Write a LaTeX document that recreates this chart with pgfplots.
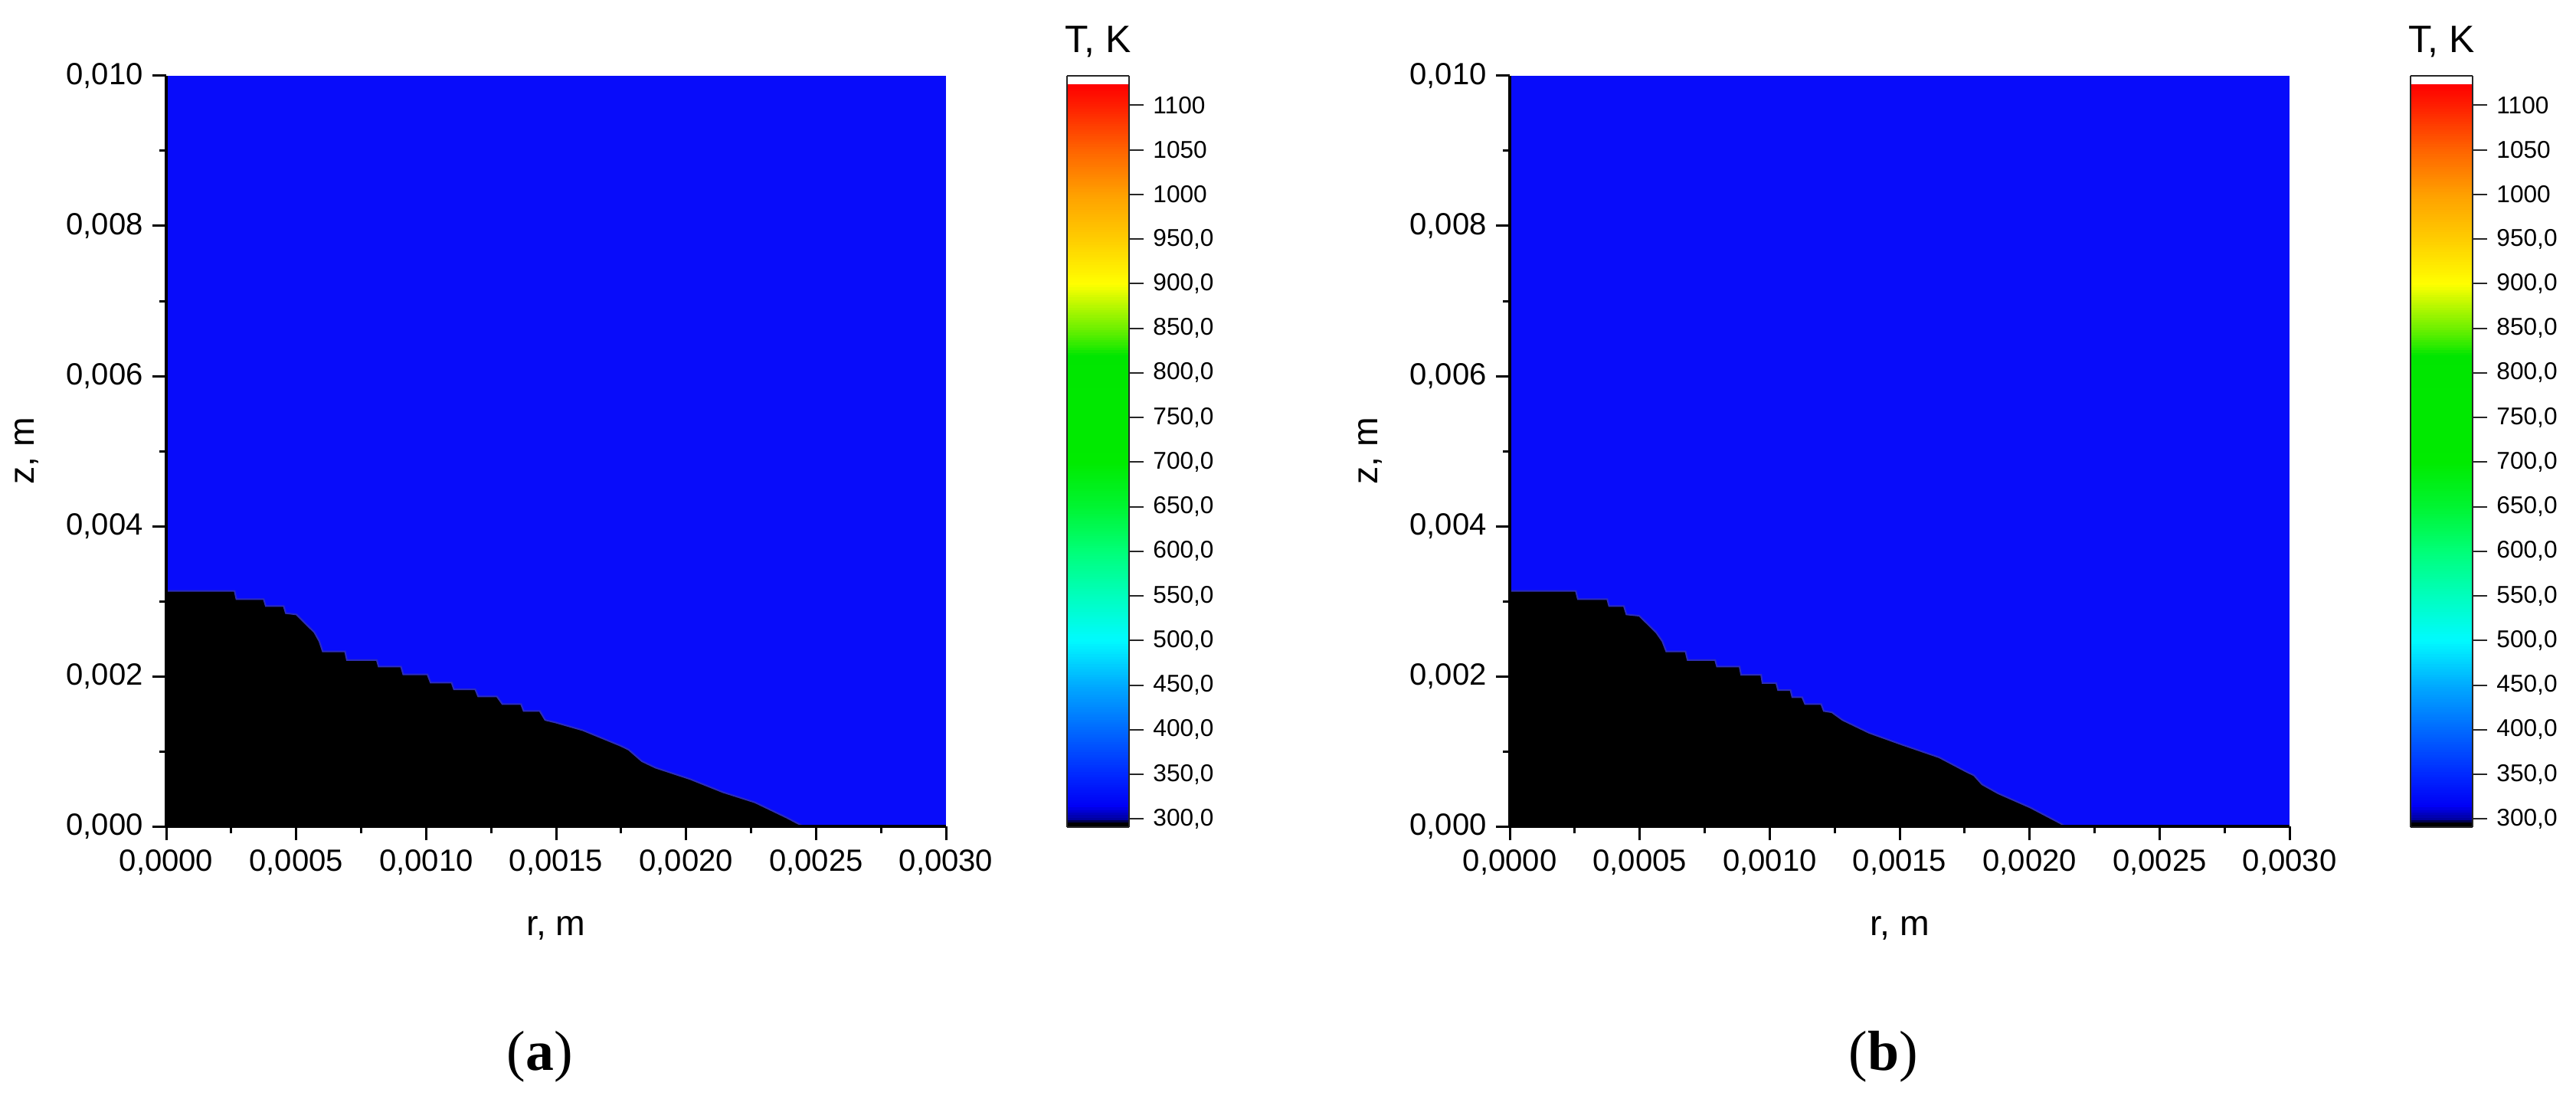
\documentclass[border=0pt]{standalone}
\usepackage{fontspec}
\setmainfont{Liberation Sans}
\newfontfamily\capfont{Liberation Serif}
\usepackage{pgfplots}
\pgfplotsset{compat=1.18}

\definecolor{meltblue}{RGB}{8,12,250}
\definecolor{edgeblue}{RGB}{45,45,185}

\pgfplotsset{
  colormap={temp}{
    rgb255(291)=(0,0,0) rgb255(297)=(0,0,0) rgb255(299)=(0,0,150)
    rgb255(315)=(0,0,245) rgb255(350)=(0,40,255) rgb255(400)=(0,105,255)
    rgb255(450)=(0,170,255) rgb255(500)=(0,250,255) rgb255(550)=(0,255,190)
    rgb255(600)=(0,255,120) rgb255(650)=(0,245,50) rgb255(700)=(0,235,0)
    rgb255(820)=(0,230,0) rgb255(830)=(40,235,0) rgb255(850)=(110,240,0)
    rgb255(900)=(255,255,0) rgb255(950)=(255,205,0) rgb255(1000)=(255,160,0)
    rgb255(1050)=(255,100,0) rgb255(1100)=(255,30,0) rgb255(1124)=(255,0,0)
    rgb255(1125)=(255,255,255) rgb255(1133)=(255,255,255)
  },
  fieldaxis/.style={
    anchor=south west, scale only axis,
    width=101.8mm, height=98mm,
    xmin=0, xmax=0.003, ymin=0, ymax=0.01,
    axis on top,
    axis x line*=bottom, axis y line*=left,
    axis line style={line width=0.35mm, black},
    tick align=outside,
    major tick length=1.8mm, minor tick length=0.9mm,
    major tick style={line width=0.3mm, black},
    minor tick style={line width=0.3mm, black},
    xtick={0,0.0005,0.001,0.0015,0.002,0.0025,0.003},
    ytick={0,0.002,0.004,0.006,0.008,0.01},
    minor x tick num=1, minor y tick num=1,
    scaled ticks=false,
    /pgf/number format/assume math mode=true,
    xticklabel style={/pgf/number format/.cd, fixed, fixed zerofill, precision=4, use comma},
    yticklabel style={/pgf/number format/.cd, fixed, fixed zerofill, precision=3, use comma},
    tick label style={font=\fontsize{11.4}{13}\selectfont},
    label style={font=\fontsize{13.2}{15}\selectfont},
    xlabel={r, m}, ylabel={z, m},
    xlabel style={at={(axis description cs:0.5,-0.1449)}, anchor=base},
    ylabel style={at={(axis description cs:-0.1788,0.5)}, anchor=center},
  },
  % dummy axis at the same place as a field axis, only to carry the colour bar
  baraxis/.style={
    anchor=south west, scale only axis,
    width=101.8mm, height=98mm,
    xmin=0, xmax=1, ymin=0, ymax=1,
    axis lines=none, xtick=\empty, ytick=\empty,
    colormap name=temp,
    point meta min=291, point meta max=1133,
    colorbar sampled,
    colorbar shift/.style={xshift=15.8mm},
    colorbar style={
      samples=300,
      at={(parent axis.north east)}, anchor=north west,
      scale only axis, width=8.1mm, height=98.1mm,
      axis lines=box, axis on top,
      axis line style={line width=0.25mm, black!85},
      ytick pos=right, yticklabel pos=right,
      xtick=\empty,
      ytick={300,350,400,450,500,550,600,650,700,750,800,850,900,950,1000,1050,1100},
      yticklabels={{300,0},{350,0},{400,0},{450,0},{500,0},{550,0},{600,0},{650,0},{700,0},{750,0},{800,0},{850,0},{900,0},{950,0},1000,1050,1100},
      tick align=outside, major tick length=1.9mm,
      major tick style={line width=0.2mm, black!85},
      yticklabel style={font=\fontsize{9}{10}\selectfont, anchor=west},
      title={T, K},
      title style={at={(0.5,1)}, anchor=base, yshift=0.9mm, font=\fontsize{14.2}{17}\selectfont},
    },
  },
}

\begin{document}
\begin{tikzpicture}
\useasboundingbox (0,0) rectangle (336.3mm,143.4mm);

% (a)
\begin{axis}[fieldaxis, at={(21.7mm,35.5mm)}]
\addplot[fill=meltblue, draw=none] coordinates {(0,0) (0.003,0) (0.003,0.01) (0,0.01)} -- cycle;
\addplot[fill=black, draw=edgeblue, line width=0.2mm] coordinates {
  (0,0) (0,0.003136) (0.000263,0.003136) (0.000270,0.003027) (0.000375,0.003027)
  (0.000383,0.002935) (0.000452,0.002935) (0.000460,0.002840) (0.000501,0.002823)
  (0.000540,0.002687) (0.000570,0.002585) (0.000589,0.002466) (0.000602,0.002330)
  (0.000688,0.002330) (0.000695,0.002216) (0.000810,0.002216) (0.000817,0.002130)
  (0.000903,0.002130) (0.000912,0.002024) (0.001005,0.002024) (0.001017,0.001915)
  (0.001098,0.001915) (0.001107,0.001825) (0.001189,0.001825) (0.001200,0.001732)
  (0.001272,0.001732) (0.001293,0.001630) (0.001365,0.001630) (0.001375,0.001537)
  (0.001437,0.001537) (0.001458,0.001417) (0.001499,0.001383) (0.001603,0.001280)
  (0.001748,0.001074) (0.001779,0.001022) (0.001830,0.000868) (0.001882,0.000782)
  (0.002017,0.000628) (0.002141,0.000456) (0.002265,0.000319) (0.002389,0.000113)
  (0.002451,0)
} -- cycle;
\end{axis}
\begin{axis}[baraxis, at={(21.7mm,35.5mm)}]
\addplot[draw=none] coordinates {(0,0) (1,1)};
\end{axis}

% (b)
\begin{axis}[fieldaxis, at={(197.1mm,35.5mm)}]
\addplot[fill=meltblue, draw=none] coordinates {(0,0) (0.003,0) (0.003,0.01) (0,0.01)} -- cycle;
\addplot[fill=black, draw=edgeblue, line width=0.2mm] coordinates {
  (0,0) (0,0.003136) (0.000254,0.003136) (0.000262,0.003027) (0.000375,0.003027)
  (0.000382,0.002935) (0.000439,0.002935) (0.000449,0.002823) (0.000498,0.002806)
  (0.000528,0.002704) (0.000563,0.002585) (0.000587,0.002466) (0.000602,0.002330)
  (0.000676,0.002330) (0.000684,0.002216) (0.000790,0.002216) (0.000797,0.002130)
  (0.000884,0.002130) (0.000890,0.002020) (0.000967,0.002020) (0.000972,0.001910)
  (0.001025,0.001910) (0.001032,0.001815) (0.001080,0.001815) (0.001087,0.001720)
  (0.001125,0.001720) (0.001136,0.001630) (0.001198,0.001630) (0.001208,0.001537)
  (0.001239,0.001520) (0.001280,0.001417) (0.001383,0.001245) (0.001507,0.001091)
  (0.001652,0.000919) (0.001755,0.000731) (0.001786,0.000679) (0.001817,0.000559)
  (0.001879,0.000439) (0.002003,0.000250) (0.002116,0.000045) (0.002137,0)
} -- cycle;
\end{axis}
\begin{axis}[baraxis, at={(197.1mm,35.5mm)}]
\addplot[draw=none] coordinates {(0,0) (1,1)};
\end{axis}

\node[anchor=base, font=\capfont\fontsize{21}{25}\selectfont] at (70.5mm,3.7mm) {(\textbf{a})};
\node[anchor=base, font=\capfont\fontsize{21}{25}\selectfont] at (245.9mm,3.7mm) {(\textbf{b})};
\end{tikzpicture}
\end{document}
